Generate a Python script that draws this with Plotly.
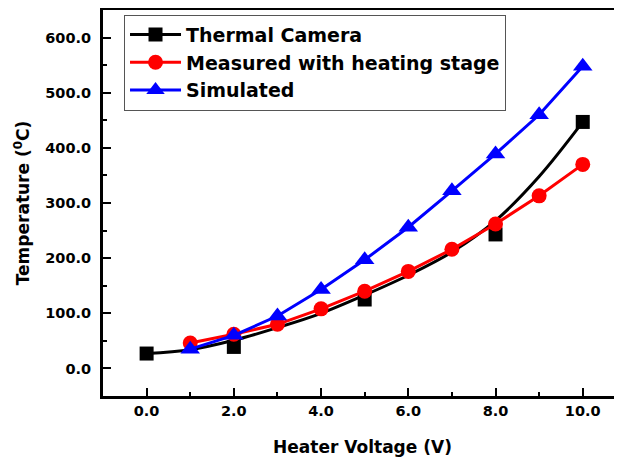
import plotly.graph_objects as go

# Thermal camera measurements
cam_x = [0, 2, 5, 8, 10]
cam_y = [27, 39, 125, 243, 447]
# Fitted curve through thermal camera data
fit_x = [0, 1, 2, 3, 4, 5, 6, 7, 8, 9, 10]
fit_y = [27, 34, 51, 74, 100, 133, 169, 211, 268, 348, 447]
# Measured with heating stage
meas_x = [1, 2, 3, 4, 5, 6, 7, 8, 9, 10]
meas_y = [46, 62, 80, 108, 140, 176, 216, 262, 313, 370]
# Simulated
sim_x = [1, 2, 3, 4, 5, 6, 7, 8, 9, 10]
sim_y = [35, 60, 95, 143, 197, 256, 322, 389, 460, 548]

x_ticks = [0, 2, 4, 6, 8, 10]
x_tick_labels = ["0.0", "2.0", "4.0", "6.0", "8.0", "10.0"]
y_ticks = [0, 100, 200, 300, 400, 500, 600]
y_tick_labels = ["0.0", "100.0", "200.0", "300.0", "400.0", "500.0", "600.0"]

FONT = "DejaVu Sans, sans-serif"

fig = go.Figure()
fig.add_trace(go.Scatter(x=fit_x, y=fit_y, mode="lines", line=dict(color="black", width=3, shape="spline"),
                         showlegend=False, hoverinfo="skip"))
fig.add_trace(go.Scatter(x=cam_x, y=cam_y, mode="markers", marker=dict(symbol="square", size=14, color="black"),
                         showlegend=False, name="Thermal Camera"))
fig.add_trace(go.Scatter(x=[None], y=[None], mode="lines+markers", name="Thermal Camera",
                         line=dict(color="black", width=3), marker=dict(symbol="square", size=14, color="black")))
fig.add_trace(go.Scatter(x=meas_x, y=meas_y, mode="lines+markers", name="Measured with heating stage",
                         line=dict(color="#ff0000", width=3), marker=dict(symbol="circle", size=15, color="#ff0000")))
fig.add_trace(go.Scatter(x=sim_x, y=sim_y, mode="lines+markers", name="Simulated",
                         line=dict(color="#0000ff", width=3), marker=dict(symbol="triangle-up", size=17, color="#0000ff")))

axis_common = dict(showline=True, linecolor="black", linewidth=3, ticks="inside", ticklen=8, tickwidth=2,
                   tickcolor="black", showgrid=False, zeroline=False,
                   tickfont=dict(family=FONT, size=14.5, color="black", weight="bold"))

fig.update_xaxes(range=[-1, 10.9], tickvals=x_ticks, ticktext=x_tick_labels, mirror=True,
                 minor=dict(ticks="inside", dtick=1, tick0=0, ticklen=4, tickwidth=2, tickcolor="black"),
                 title=dict(text="Heater Voltage (V)", font=dict(family=FONT, size=17, color="black", weight="bold"),
                            standoff=23),
                 **axis_common)
fig.update_yaxes(range=[-50, 650], tickvals=y_ticks, ticktext=y_tick_labels, ticklabelstandoff=6,
                 minor=dict(ticks="inside", dtick=50, tick0=0, ticklen=4, tickwidth=2, tickcolor="black"),
                 title=dict(text="Temperature (<sup>0</sup>C)", font=dict(family=FONT, size=17, color="black", weight="bold"),
                            standoff=12),
                 **axis_common)

# the page body adds an 8px margin, so the figure is sized to fit the 622x458 window
fig.update_layout(
    width=614, height=450,
    margin=dict(l=95, r=0, t=2, b=62, autoexpand=False),
    plot_bgcolor="white", paper_bgcolor="white",
    legend=dict(x=0.0405, y=0.988, xanchor="left", yanchor="top", bordercolor="#555555", borderwidth=1,
                bgcolor="white", font=dict(family=FONT, size=19, color="black", weight="bold"),
                tracegroupgap=0, itemsizing="trace", itemwidth=51),
)

fig.write_html("out.html")
